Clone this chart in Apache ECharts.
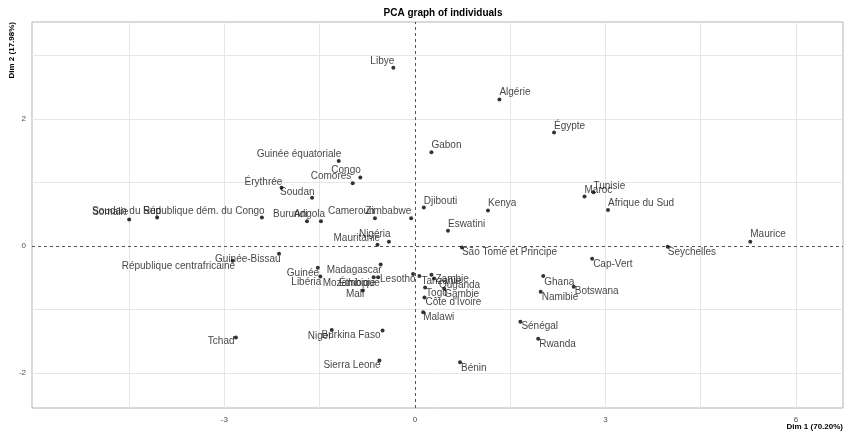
<!DOCTYPE html>
<html>
<head>
<meta charset="utf-8">
<script src="https://cdn.jsdelivr.net/npm/echarts@6/dist/echarts.min.js"></script>
<style>html,body{margin:0;padding:0;background:#fff}#c{width:850px;height:435px}</style>
</head>
<body>
<div id="c"></div>
<script>
// ---- data ----
const countries = ["Libye","Algérie","Égypte","Gabon","Djibouti","Kenya","Eswatini","Maroc","Tunisie","Afrique du Sud",
  "Maurice","Seychelles","Cap-Vert","São Tomé et Principe","Ghana","Botswana","Namibie","Sénégal","Rwanda","Bénin",
  "Sierra Leone","Burkina Faso","Niger","Malawi","Tchad","Guinée-Bissau","République centrafricaine","Guinée","Libéria","Madagascar",
  "Mozambique","Éthiopie","Mali","Lesotho","Tanzanie","Zambie","Ouganda","Togo","Gambie","Côte d'Ivoire",
  "Somalie","Soudan du Sud","République dém. du Congo","Burundi","Angola","Soudan","Érythrée","Guinée équatoriale","Congo","Comores",
  "Cameroun","Zimbabwe","Nigéria","Mauritanie"];
const dim1 = [-0.34,1.33,2.19,0.26,0.14,1.15,0.52,2.67,2.81,3.04,
  5.28,3.98,2.79,0.74,2.02,2.50,1.98,1.66,1.94,0.71,
  -0.56,-0.51,-1.31,0.13,-2.82,-2.14,-2.87,-1.53,-1.49,-0.54,
  -0.65,-0.58,-0.82,-0.03,0.07,0.26,0.30,0.16,0.46,0.15,
  -4.50,-4.06,-2.41,-1.70,-1.48,-1.62,-2.10,-1.20,-0.86,-0.98,
  -0.63,-0.06,-0.41,-0.59];
const dim2 = [2.81,2.31,1.79,1.48,0.61,0.56,0.24,0.78,0.85,0.57,
  0.07,-0.01,-0.20,-0.02,-0.47,-0.64,-0.72,-1.19,-1.46,-1.83,
  -1.80,-1.33,-1.32,-1.04,-1.44,-0.12,-0.23,-0.34,-0.48,-0.29,
  -0.49,-0.49,-0.70,-0.44,-0.47,-0.45,-0.51,-0.65,-0.67,-0.81,
  0.42,0.45,0.45,0.39,0.39,0.76,0.92,1.34,1.08,0.99,
  0.44,0.44,0.07,0.02];
const xTickLabels = [-3, 0, 3, 6];
const yTickLabels = [-2, 0, 2];
const xGridLines = [-4.5, -3, -1.5, 1.5, 3, 4.5, 6];
const yGridLines = [-2, -1, 1, 2, 3];

// ---- label layout (pixel offsets of each label from its point) ----
const labelOffsets = [[-23,-6],[0,-7],[0,-6],[0,-7],[0,-6],[0,-7],[0,-7],[0,-6],[0,-6],[0,-7],
  [0,-7],[0,6],[1,5],[0,5],[1,6],[1,5],[1,5],[1,5],[1,5],[1,6],
  [-56,5],[-61,5],[-24,6],[0,5],[-28,4],[-64,6],[-111,6],[-31,6],[-29,6],[-54,6],
  [-51,6],[-39,6],[-17,4],[-33,5],[2,5],[4,5],[5,7],[1,6],[0,6],[1,5],
  [-37,-7],[-65,-6],[-119,-6],[-34,-7],[-27,-7],[-32,-6],[-37,-5],[-82,-7],[-29,-7],[-42,-7],
  [-47,-7],[-46,-7],[-30,-7],[-44,-7]];

const SYM = 4;
const points = countries.map((n, i) => ({
  name: n,
  value: [dim1[i], dim2[i]],
  label: { position: [labelOffsets[i][0] + SYM/2, labelOffsets[i][1] + SYM/2] }
}));

const near = (v, arr) => arr.some(t => Math.abs(t - v) < 1e-6);
const FONT = 'Liberation Sans, Arial, sans-serif';

const chart = echarts.init(document.getElementById('c'), null, { renderer: 'canvas' });
chart.setOption({
  animation: false,
  backgroundColor: '#ffffff',
  title: {
    text: 'PCA graph of individuals',
    left: 438, top: 3, textAlign: 'center',
    textStyle: { fontSize: 10, fontWeight: 'bold', color: '#000', fontFamily: FONT }
  },
  grid: {
    left: 32, right: 7, top: 22, bottom: 27,
    show: true, borderColor: '#b3b3b3', borderWidth: 1, backgroundColor: '#fff'
  },
  xAxis: {
    type: 'value', min: -6.03, max: 6.74,
    axisLine: { show: false }, axisTick: { show: false }, splitLine: { show: false },
    axisLabel: {
      color: '#4d4d4d', fontSize: 8, margin: 8, fontFamily: FONT,
      formatter: v => near(v, xTickLabels) ? String(v) : ''
    }
  },
  yAxis: {
    type: 'value', min: -2.55, max: 3.53,
    axisLine: { show: false }, axisTick: { show: false }, splitLine: { show: false },
    axisLabel: {
      color: '#4d4d4d', fontSize: 8, margin: 6, fontFamily: FONT,
      formatter: v => near(v, yTickLabels) ? String(v) : ''
    }
  },
  graphic: [
    { type: 'text', right: 7, top: 423,
      style: { text: 'Dim 1 (70.20%)', font: 'bold 8px ' + FONT, fill: '#000' } },
    { type: 'text', x: 12, y: 22, rotation: Math.PI / 2,
      style: { text: 'Dim 2 (17.98%)', font: 'bold 8px ' + FONT, fill: '#000', align: 'right', verticalAlign: 'middle' } }
  ],
  series: [
    {
      type: 'line', data: [], z: 1, silent: true,
      markLine: {
        silent: true, symbol: ['none', 'none'], label: { show: false }, animation: false,
        lineStyle: { color: '#e6e6e6', width: 1, type: 'solid' },
        data: xGridLines.map(v => ({ xAxis: v })).concat(yGridLines.map(v => ({ yAxis: v })))
      }
    },
    {
      type: 'line', data: [], z: 2, silent: true,
      markLine: {
        silent: true, symbol: ['none', 'none'], label: { show: false }, animation: false,
        lineStyle: { color: '#555', width: 1, type: [3, 3] },
        data: [{ xAxis: 0 }, { yAxis: 0 }]
      }
    },
    {
      type: 'scatter', z: 5, symbol: 'circle', symbolSize: SYM,
      itemStyle: { color: '#000' },
      emphasis: { disabled: true },
      label: {
        show: true, formatter: '{b}', align: 'left', verticalAlign: 'middle',
        fontSize: 10, color: '#111', fontFamily: FONT
      },
      labelLayout: { hideOverlap: false },
      data: points
    }
  ]
});
</script>
</body>
</html>
